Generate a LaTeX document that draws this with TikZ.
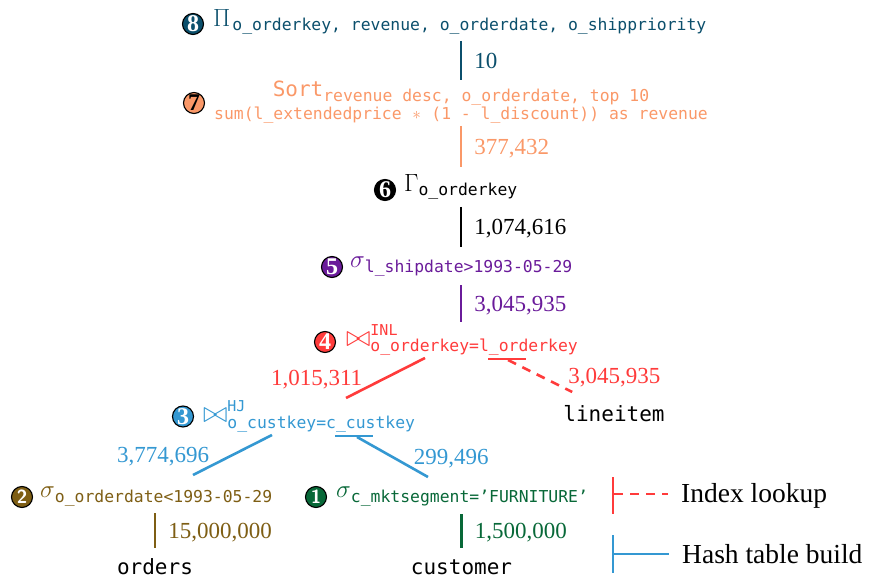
\documentclass[tikz,border=0pt]{standalone}
\usepackage{graphicx}
\usepackage{fontspec}
\setmainfont{Liberation Serif}
\setmonofont{DejaVu Sans Mono}
\usetikzlibrary{calc}

% operator colours
\definecolor{col8}{RGB}{11,79,108}
\definecolor{col7}{RGB}{250,152,104}
\definecolor{col5}{RGB}{106,27,154}
\definecolor{col4}{RGB}{255,59,59}
\definecolor{col3}{RGB}{52,152,210}
\definecolor{col2}{RGB}{126,94,20}
\definecolor{col1}{RGB}{8,104,56}

% type sizes
\newcommand\opsym{\fontsize{24.88}{25}\selectfont}
\newcommand\opsub{\fontsize{16.4}{20}\selectfont\ttfamily}
\newcommand\opsup{\fontsize{15}{18}\selectfont\ttfamily}
\newcommand\relname{\fontsize{21}{23}\selectfont\ttfamily}
\newcommand\cntfont{\fontsize{23}{24}\selectfont\rmfamily}
\newcommand\legfont{\fontsize{27.5}{29}\selectfont\rmfamily}
\newcommand\ttast{\makebox[0.602em]{$\ast$}}
\newcommand\joinsym{\raisebox{-1pt}{\scalebox{1.2}{$\bowtie$}}}

\tikzset{
  badge/.style={circle, draw=black, line width=1.1pt, fill=#1, minimum size=21pt,
    inner sep=0pt, text=white, font=\fontsize{24}{24}\selectfont\bfseries},
  sansbadge/.style={badge=#1, font=\fontsize{19}{19}\selectfont\sffamily\bfseries},
  op/.style={anchor=base west, inner sep=0pt, text=#1},
  rel/.style={font=\relname, inner sep=0pt, anchor=base},
  cnt/.style={font=\cntfont, text=#1, inner sep=0pt, text depth=0pt, anchor=west},
  flow/.style={draw=#1, line width=2.6pt},
  lookup/.style={dash pattern=on 9pt off 7pt},
}

\begin{document}
\begin{tikzpicture}[x=1pt, y=-1pt]
\useasboundingbox (0,0) rectangle (870,580);

% ---- operators ----
\node[badge=col8] (n8) at (193,24) {8};
\node[op=col8] (op8) at (213,27)
  {\opsym$\Pi$\kern2pt\raisebox{-4pt}{\opsub o\_orderkey, revenue, o\_orderdate, o\_shippriority}};

\node[badge=col7, text=black] (n7) at (194,103) {7};
\node[rel, text=col7] (op7) at (461,96.5)
  {Sort\raisebox{-5pt}{\opsub revenue desc, o\_orderdate, top 10}};
\node[anchor=base, inner sep=0pt, text=col7, font=\opsub] (op7b) at (461,120)
  {sum(l\_extendedprice \ttast{} (1 - l\_discount)) as revenue};

\node[badge=black] (n6) at (385,190) {6};
\node[op=black] (op6) at (404,192)
  {\opsym$\Gamma$\raisebox{-4pt}{\opsub o\_orderkey}};

\node[badge=col5] (n5) at (332,267) {5};
\node[op=col5] (op5) at (350,267)
  {\opsym$\sigma$\raisebox{-5pt}{\opsub l\_shipdate>1993-05-29}};

\node[badge=col4] (n4) at (325,342) {4};
\node[op=col4] (op4) at (346,345)
  {\opsym\joinsym\rlap{\raisebox{10pt}{\opsup INL}}\raisebox{-6pt}{\opsub o\_orderkey=l\_orderkey}};

\node[badge=col3] (n3) at (183,416.5) {3};
\node[op=col3] (op3) at (203,421)
  {\opsym\joinsym\rlap{\raisebox{9.5pt}{\opsup HJ}}\raisebox{-7pt}{\opsub o\_custkey=c\_custkey}};

\node[sansbadge=col2] (n2) at (22,497) {2};
\node[op=col2] (op2) at (40,497)
  {\opsym$\sigma$\raisebox{-5pt}{\opsub o\_orderdate<1993-05-29}};

\node[sansbadge=col1] (n1) at (316,497) {1};
\node[op=col1] (op1) at (336,497)
  {\opsym$\sigma$\raisebox{-5pt}{\opsub c\_mktsegment=’FURNITURE’}};

% ---- base relations ----
\node[rel] (li) at (614,421) {lineitem};
\node[rel] (ord) at (155,574) {orders};
\node[rel] (cust) at (461.5,574) {customer};

% ---- pipeline edges with cardinalities ----
\draw[flow=col8] ($(op8.base -| op7.base)+(0,14)$) -- ($(op7.base)+(0,-16.5)$)
  node[cnt=col8, midway, xshift=12pt] {10};
\draw[flow=col7] ($(op7b.base)+(0,6)$) -- ($(op6.base -| op7b.base)+(0,-25)$)
  node[cnt=col7, midway, xshift=12pt] {377,432};
\draw[flow=black] ($(op6.base -| op7.base)+(0,15)$) -- ($(op5.base -| op7.base)+(0,-20)$)
  node[cnt=black, midway, xshift=12pt] {1,074,616};
\draw[flow=col5] ($(op5.base -| op7.base)+(0,18)$) -- ($(op4.base -| op7.base)+(0,-23)$)
  node[cnt=col5, midway, xshift=12pt] {3,045,935};

% index nested loop join
\draw[flow=col4] ($(op4.base west)+(79,13)$) -- ($(op3.base west)+(143,-23)$)
  node[cnt=col4, midway, anchor=east, xshift=-22pt] {1,015,311};
\draw[flow=col4] ($(op4.base west)+(142,14)$) -- ($(op4.base west)+(180,14)$);
\draw[flow=col4, lookup] ($(op4.base west)+(162,15)$) -- ($(li.base west)+(9,-29)$)
  node[cnt=col4, midway, xshift=27pt] {3,045,935};

% hash join
\draw[flow=col3] ($(op3.base west)+(69,14)$) -- ($(op2.base west)+(153,-22)$)
  node[cnt=col3, midway, anchor=east, xshift=-22pt] {3,774,696};
\draw[flow=col3] ($(op3.base west)+(132,15)$) -- ($(op3.base west)+(170,15)$);
\draw[flow=col3] ($(op3.base west)+(154,16)$) -- ($(op1.base west)+(92,-20)$)
  node[cnt=col3, midway, xshift=20pt] {299,496};

% scans
\draw[flow=col2] ($(op2.base -| ord.base)+(0,16)$) -- ($(ord.base)+(0,-26)$)
  node[cnt=col2, midway, xshift=12pt] {15,000,000};
\draw[flow=col1] ($(op1.base -| cust.base)+(0,17)$) -- ($(cust.base)+(0,-26)$)
  node[cnt=col1, midway, xshift=12pt] {1,500,000};

% ---- legend ----
\node[font=\legfont, anchor=base west, inner sep=0pt] (lgIdx) at (681,502) {Index lookup};
\node[font=\legfont, anchor=base west, inner sep=0pt] (lgHash) at (682,563) {Hash table build};
\draw[flow=col4] ($(lgIdx.base west)+(-68,-25)$) -- ++(0,37);
\draw[flow=col4, lookup] ($(lgIdx.base west)+(-67,-8)$) -- ($(lgIdx.base west)+(-13,-8)$);
\draw[flow=col3] ($(lgHash.base west)+(-69,-28)$) -- ++(0,38);
\draw[flow=col3] ($(lgHash.base west)+(-68,-9)$) -- ($(lgHash.base west)+(-13,-9)$);
\end{tikzpicture}
\end{document}
